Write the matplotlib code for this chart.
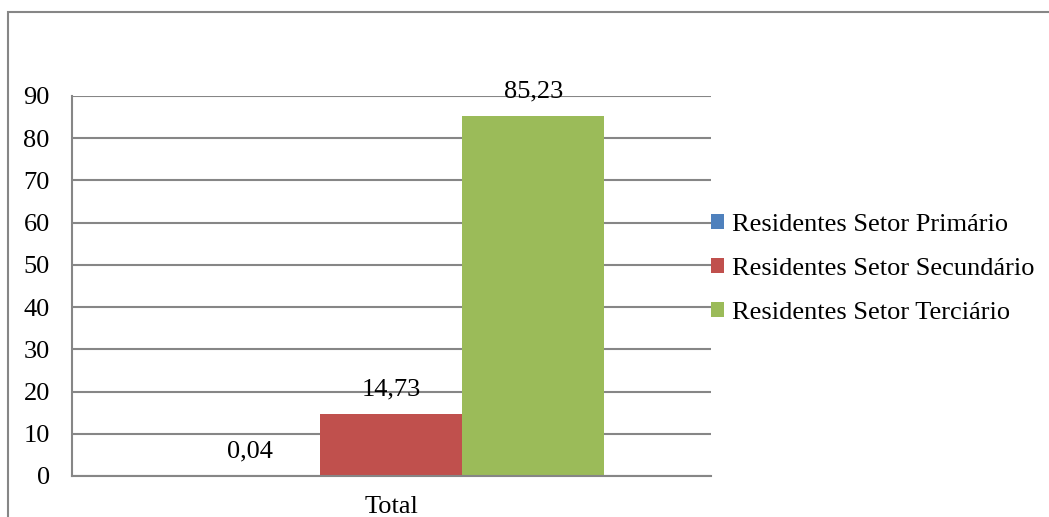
import matplotlib.pyplot as plt
from matplotlib.patches import Rectangle

plt.rcParams['font.family'] = ['Liberation Serif', 'DejaVu Serif']

categoria = ['Total']
series = ['Residentes Setor Primário', 'Residentes Setor Secundário', 'Residentes Setor Terciário']
valores = [0.04, 14.73, 85.23]
rotulos = ['0,04', '14,73', '85,23']
cores = ['#4F81BD', '#C0504D', '#9BBB59']
yticks = list(range(0, 100, 10))

W, H = 1049, 517
fs = 19
fig = plt.figure(figsize=(W / 100, H / 100), dpi=100)
ax = fig.add_axes([72 / W, 1 - 476 / H, (711 - 72) / W, (476 - 96) / H])

largura = 142 / 639
for i, (s, v, r, c) in enumerate(zip(series, valores, rotulos, cores)):
    x = (i - 1) * largura
    ax.bar(x, v, width=largura, color=c, label=s, zorder=2)
    ax.annotate(r, (x, v), xytext=(0, 17.5), textcoords='offset points',
                ha='center', va='center', fontsize=fs, zorder=3)

ax.set_xlim(-0.5, 0.5)
ax.set_ylim(0, 90)
ax.set_yticks(yticks)
ax.set_xticks([0])
ax.set_xticklabels(categoria)
ax.tick_params(axis='both', length=0, labelsize=fs)
ax.tick_params(axis='y', pad=16)
ax.tick_params(axis='x', pad=14.5)
ax.grid(axis='y', color='#868686', linewidth=1.5, zorder=1)
for side in ['top', 'right']:
    ax.spines[side].set_visible(False)
for side in ['left', 'bottom']:
    ax.spines[side].set_color('#868686')
    ax.spines[side].set_linewidth(1.5)

# moldura do gráfico
fig.patches.append(Rectangle((8 / W, -0.1), 1.2, 1.1 - 12 / H, transform=fig.transFigure,
                             fill=False, edgecolor='#868686', linewidth=1.5))

fig.legend(loc='center left', bbox_to_anchor=(711 / W, 1 - 269 / H), frameon=False,
           fontsize=fs, handlelength=0.5, handleheight=0.5, handletextpad=0.3,
           labelspacing=0.84, borderpad=0, borderaxespad=0)

fig.savefig('out.png', dpi=100)
